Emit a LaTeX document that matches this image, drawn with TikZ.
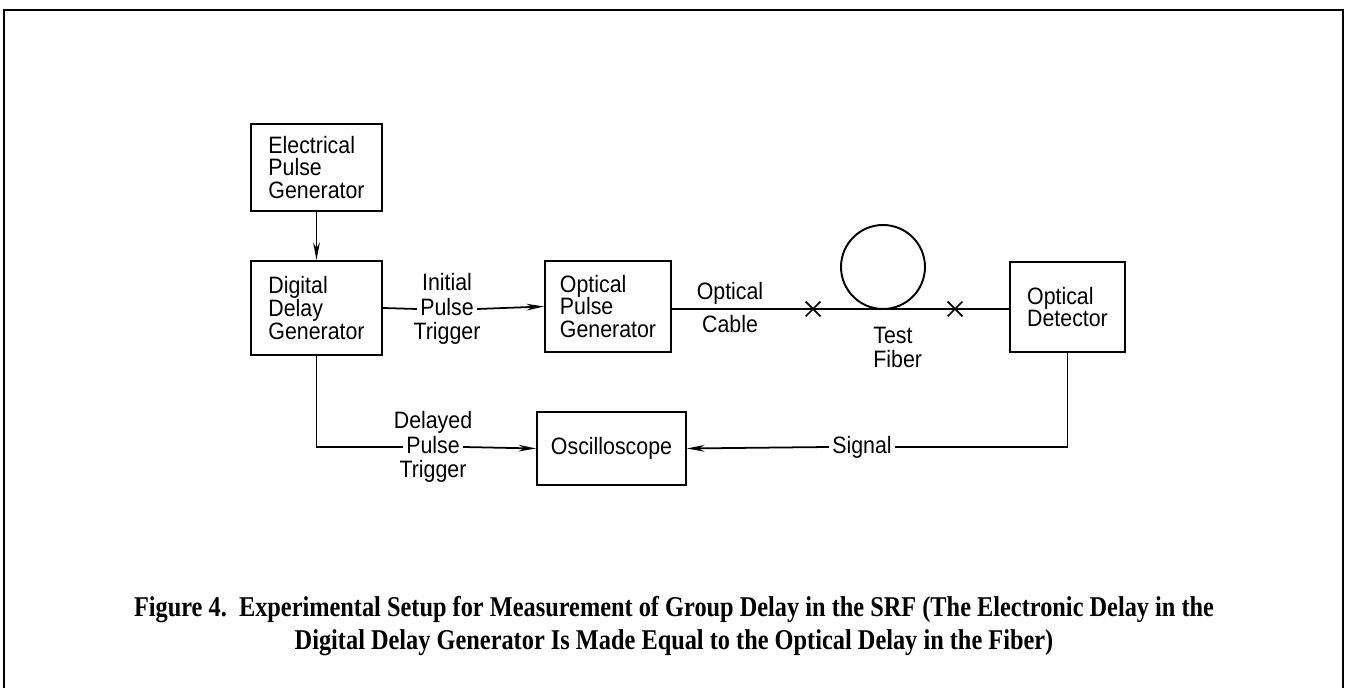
\documentclass[tikz,border=0pt]{standalone}
\usepackage{fontspec}
\setmainfont[FakeStretch=0.9]{Liberation Sans}
\newfontfamily\capfont[FakeStretch=0.85]{Liberation Serif}
\usetikzlibrary{arrows.meta, positioning, shapes.misc}

\begin{document}
\begin{tikzpicture}[x=0.02cm, y=-0.02cm, line width=1pt,
    block/.style={draw, line width=1.1pt, align=left, font=\fontsize{13.5}{13}\selectfont, inner sep=0pt},
    lbl/.style={font=\fontsize{13.5}{13}\selectfont, inner xsep=1.5pt, inner ysep=0.5pt, text height=9.5pt, text depth=2.5pt},
    xmark/.style={cross out, draw, line width=1pt, minimum size=0.26cm, inner sep=0pt},
    >={Stealth[length=10pt, width=3.8pt]}
  ]
  \useasboundingbox (0,0) rectangle (1347,688);
  \draw[line width=1.3pt] (4,688) -- (4,10) -- (1343,10) -- (1343,688);

  \node[block, minimum width=2.62cm, minimum height=1.74cm] (epg) at (316.5,167.5) {Electrical\\Pulse\\Generator};
  \node[block, minimum width=2.62cm, minimum height=1.88cm] (ddg) at (316.5,308) {Digital\\Delay\\Generator};
  \node[block, minimum width=2.52cm, minimum height=1.82cm] (opg) at (608,306.5) {Optical\\Pulse\\Generator};
  \node[block, minimum width=2.30cm, minimum height=1.80cm] (od) at (1067.5,307) {Optical\\Detector};
  \node[block, minimum width=2.98cm, minimum height=1.46cm] (osc) at (611.5,448.5) {Oscilloscope};

  \node[xmark] (j1) at (813,309) {};
  \node[xmark] (j2) at (955,309) {};
  \node[circle, draw, line width=1.1pt, minimum size=1.68cm, inner sep=0pt] (loop) at (883,267) {};

  \node[lbl] (ipt) at (447,309) {Pulse};
  \node[lbl, above=0pt of ipt] (ipt-a) {Initial};
  \node[lbl, below=0pt of ipt] (ipt-b) {Trigger};
  \node[lbl] (dpt) at (433,447) {Pulse};
  \node[lbl, above=0pt of dpt] (dpt-a) {Delayed};
  \node[lbl, below=0pt of dpt] (dpt-b) {Trigger};
  \node[lbl] (sig) at (862,447) {Signal};
  \node[lbl, above=2pt] (cab-a) at (730,309) {Optical};
  \node[lbl, below=3pt] (cab-b) at (730,309) {Cable};
  \node[lbl, below=9pt] (tf-a) at (893,309) {Test};
  \node[lbl, below=0pt of tf-a.south west, anchor=north west] (tf-b) {Fiber};

  \draw[->] (epg) -- (ddg);
  \draw (ddg.east) -- (ipt.west);
  \draw[->] (ipt.east) -- (opg.west);
  \draw (opg.east |- j1) -- (j1.center) -- (j2.center) -- (od.west |- j2);
  \draw (ddg.south) |- (dpt.west);
  \draw[->] (dpt.east) -- (osc.west);
  \draw (od.south) |- (sig.east);
  \draw[->] (sig.west) -- (osc.east);

  \node[font=\capfont\bfseries\fontsize{16.3}{18}\selectfont] (cap1) at (674,610) {Figure 4.\ \ Experimental Setup for Measurement of Group Delay in the SRF (The Electronic Delay in the};
  \node[font=\capfont\bfseries\fontsize{16.3}{18}\selectfont] (cap2) at (674,643) {Digital Delay Generator Is Made Equal to the Optical Delay in the Fiber)};
\end{tikzpicture}
\end{document}
